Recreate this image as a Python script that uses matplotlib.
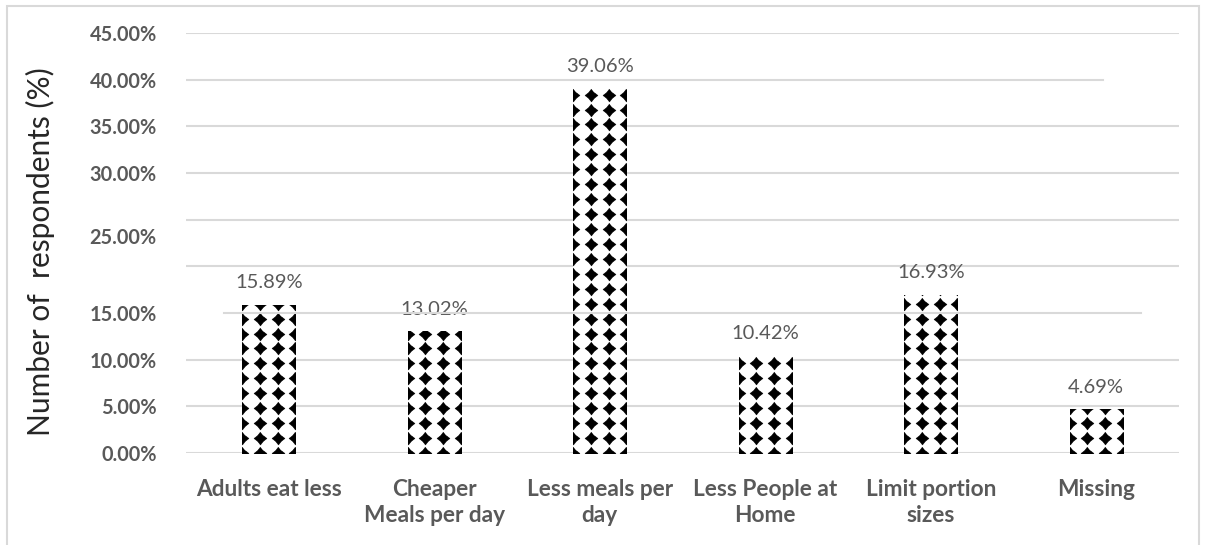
import numpy as np
import matplotlib.pyplot as plt
from matplotlib.patches import Rectangle
from matplotlib.path import Path
from matplotlib.transforms import ScaledTranslation

plt.rcParams['font.family'] = ['Lato', 'DejaVu Sans']

categories = ['Adults eat less', 'Cheaper\nMeals per day', 'Less meals per\nday',
              'Less People at\nHome', 'Limit portion\nsizes', 'Missing']
shares = [15.89, 13.02, 39.06, 10.42, 16.93, 4.69]
tick_values = [0, 5, 10, 15, 25, 30, 35, 40, 45]
grid_values = [0, 5, 10, 15, 20, 25, 30, 35, 40, 45]

grey = '#595959'
grid_col = '#d9d9d9'

# plump four-pointed star used for the bar fill pattern
ang = np.pi / 2 + np.arange(8) * np.pi / 4
rad = np.where(np.arange(8) % 2 == 0, 1.0, 0.62)
star = Path(np.column_stack([rad * np.cos(ang), rad * np.sin(ang)]))

fig = plt.figure(figsize=(12.09, 5.45), dpi=100)
ax = fig.add_axes([186 / 1209, 92 / 545, 993 / 1209, 420 / 545])

x = np.arange(len(categories))
bars = ax.bar(x, shares, width=0.32, color='white', zorder=2)

# black diamond pattern inside each bar, clipped to the bar outline
for bar in bars:
    cx = bar.get_x() + bar.get_width() / 2
    cols = cx + np.arange(-1.5, 1.6, 1.0) * bar.get_width() / 3
    rows = np.arange(0, bar.get_height() + 1.6, 1.6)
    gx, gy = np.meshgrid(cols, rows)
    sc = ax.scatter(gx.ravel(), gy.ravel(), marker=star, s=85,
                    color='black', linewidths=0.4, zorder=3)
    sc.set_clip_path(bar)

# gridlines; the 15% one is shorter and sits on top of the bars
for g in grid_values:
    xmin, xmax, z = 0, 1, 1
    if g == 40:
        xmax = 0.923
    if g == 15:
        xmin, xmax, z = 0.038, 0.962, 4
    ax.axhline(g, xmin=xmin, xmax=xmax, color=grid_col, lw=1.5, zorder=z)

for xi, v in zip(x, shares):
    ax.annotate(f'{v:.2f}%', (xi, v), xytext=(0, 12), textcoords='offset points',
                ha='center', va='baseline', fontsize=14.5, color=grey)

ax.set_xlim(-0.5, len(categories) - 0.5)
ax.set_ylim(0, 45)
ax.set_yticks(tick_values, [f'{t:.2f}%' for t in tick_values])
ax.set_xticks(x, categories)
ax.tick_params(length=0)
ax.tick_params(axis='y', pad=21, labelsize=14.3, labelcolor=grey)
ax.tick_params(axis='x', pad=19, labelsize=16.3, labelcolor=grey)
for lab in ax.get_yticklabels():
    lab.set_fontweight('bold')
for lab in ax.get_xticklabels():
    lab.set_fontweight('bold')
    lab.set_linespacing(1.3)

# the 25% label sits a little below its gridline
lab25 = ax.get_yticklabels()[tick_values.index(25)]
lab25.set_transform(lab25.get_transform() + ScaledTranslation(0, -16 / 100, fig.dpi_scale_trans))

for s in ax.spines.values():
    s.set_visible(False)

fig.text(40 / 1209, 0.538, 'Number of  respondents (%)', rotation=90,
         ha='center', va='center', fontsize=21.5, color='#262626')

fig.patches.append(Rectangle((7 / 1209, -0.02), 1192 / 1209, 1.02 - 6 / 545,
                             transform=fig.transFigure, fill=False,
                             edgecolor=grid_col, lw=1.5))

fig.savefig('out.png', dpi=100)
